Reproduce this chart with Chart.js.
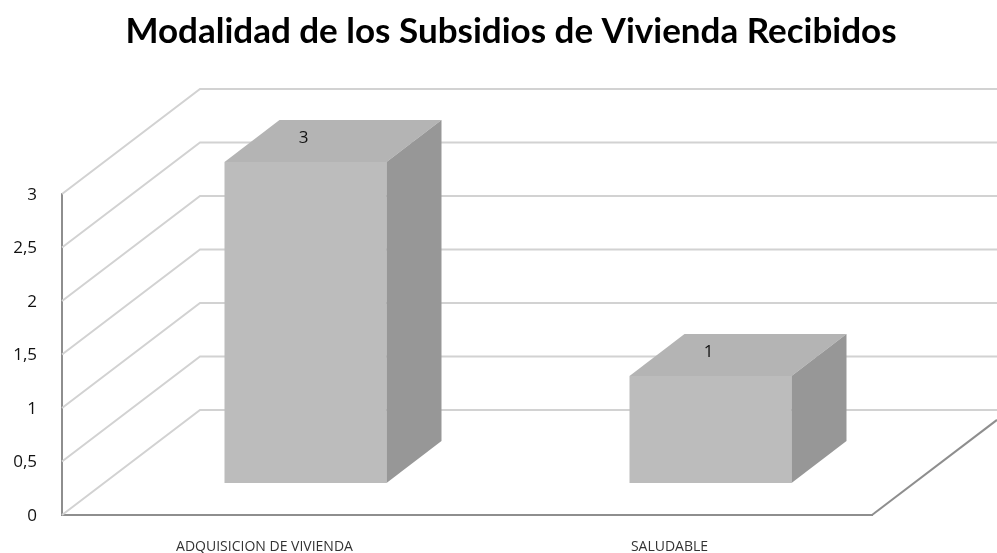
<!DOCTYPE html>
<html>
<head>
<meta charset="utf-8">
<style>
    html, body { margin: 0; padding: 0; background: #fff; }
    canvas { display: block; }
</style>
<script src="https://cdn.jsdelivr.net/npm/chart.js@4"></script>
</head>
<body>
<canvas id="chart" width="997" height="553"></canvas>
<script>
const TITLE = "Modalidad de los Subsidios de Vivienda Recibidos";
const categories = ["ADQUISICION DE VIVIENDA", "SALUDABLE"];
const subsidies = [3, 1];
const yTicks = [0, 0.5, 1, 1.5, 2, 2.5, 3];

// 3D look: how far the walls recede, and where a bar sits on the floor.
const WALL_DX = 138, WALL_DY = -105;
const BAR_SHIFT_X = 41, BAR_SHIFT_Y = -32;
const BAR_DX = 55, BAR_DY = -42;

const GRID = "#d2d2d2";
const AXIS = "#8e8e8e";

function poly(ctx, pts, color) {
    ctx.beginPath();
    pts.forEach(([x, y], i) => (i ? ctx.lineTo(x, y) : ctx.moveTo(x, y)));
    ctx.closePath();
    ctx.fillStyle = color;
    ctx.fill();
}

const fake3d = {
    id: "fake3d",
    // the title is centred further right than the plot's own box
    afterLayout(chart) {
        chart.titleBlock.left += 75;
        chart.titleBlock.right += 75;
    },
    beforeDatasetsDraw(chart) {
        const { ctx, chartArea, scales } = chart;
        const w = chart.width;
        ctx.save();
        ctx.strokeStyle = GRID;
        ctx.lineWidth = 2;
        yTicks.forEach((v) => {
            const py = scales.y.getPixelForValue(v);
            ctx.beginPath();
            ctx.moveTo(chartArea.left, py);
            ctx.lineTo(chartArea.left + WALL_DX, py + WALL_DY);
            ctx.lineTo(w, py + WALL_DY);
            ctx.stroke();
        });
        // right edge of the floor
        const base = scales.y.getPixelForValue(0);
        ctx.strokeStyle = AXIS;
        ctx.lineWidth = 2;
        ctx.beginPath();
        ctx.moveTo(chartArea.right, base);
        ctx.lineTo(w, base + (w - chartArea.right) * WALL_DY / WALL_DX);
        ctx.stroke();
        ctx.restore();
    },
    beforeDatasetDraw(chart) {
        chart.ctx.save();
        chart.ctx.translate(BAR_SHIFT_X, BAR_SHIFT_Y);
    },
    afterDatasetDraw(chart, args) {
        const ctx = chart.ctx;
        args.meta.data.forEach((bar, i) => {
            const l = bar.x - bar.width / 2, r = bar.x + bar.width / 2;
            poly(ctx, [[l, bar.y], [r, bar.y], [r + BAR_DX, bar.y + BAR_DY], [l + BAR_DX, bar.y + BAR_DY]], "#b4b4b4");
            poly(ctx, [[r, bar.y], [r + BAR_DX, bar.y + BAR_DY], [r + BAR_DX, bar.base + BAR_DY], [r, bar.base]], "#979797");
            ctx.fillStyle = "#111";
            ctx.font = "17px 'Open Sans'";
            ctx.textAlign = "center";
            ctx.textBaseline = "middle";
            ctx.fillText(String(subsidies[i]), bar.x - 2, bar.y - 24);
        });
        ctx.restore();
    },
};

new Chart(document.getElementById("chart"), {
    type: "bar",
    data: {
        labels: categories,
        datasets: [{
            data: subsidies,
            backgroundColor: "#bcbcbc",
            barPercentage: 0.4,
            categoryPercentage: 1,
            clip: false,
        }],
    },
    plugins: [fake3d],
    options: {
        responsive: false,
        animation: false,
        layout: { padding: { left: 0, right: 125, top: 0, bottom: 0 } },
        plugins: {
            legend: { display: false },
            tooltip: { enabled: false },
            title: {
                display: true,
                text: TITLE,
                color: "#000",
                font: { family: "Lato", size: 35, weight: "bold" },
                padding: { top: 11, bottom: 141 },
            },
        },
        scales: {
            x: {
                grid: { display: false },
                border: { display: true, color: AXIS, width: 2 },
                ticks: { color: "#333", font: { family: "Open Sans", size: 14 }, padding: 16, maxRotation: 0 },
                afterFit: (s) => { s.height = 38; },
            },
            y: {
                min: 0,
                max: 3,
                grid: { display: false },
                border: { display: true, color: AXIS, width: 2 },
                afterBuildTicks: (s) => { s.ticks = yTicks.map((value) => ({ value })); },
                ticks: {
                    color: "#111",
                    font: { family: "Open Sans", size: 17 },
                    padding: 17,
                    labelOffset: 1,
                    callback: (v) => String(v).replace(".", ","),
                },
                afterFit: (s) => { s.width = 62; },
            },
        },
    },
});
</script>
</body>
</html>
